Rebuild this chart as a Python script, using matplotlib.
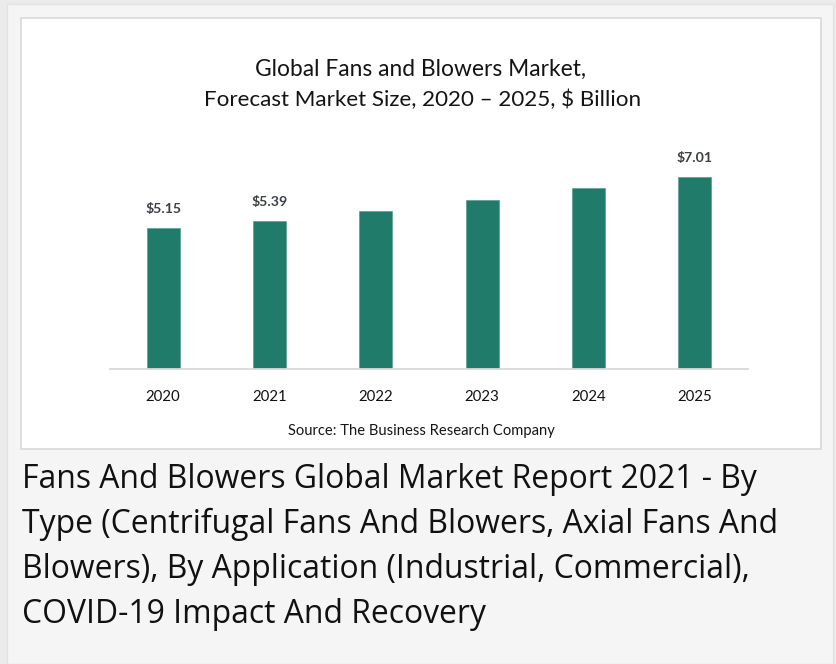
import matplotlib
matplotlib.use('Agg')
import matplotlib.pyplot as plt
from matplotlib.patches import Rectangle

# ---- data ----
years = ['2020', '2021', '2022', '2023', '2024', '2025']
values = [5.15, 5.39, 5.76, 6.16, 6.59, 7.01]
value_labels = ['$5.15', '$5.39', '', '', '', '$7.01']
title_lines = ['Global Fans and Blowers Market,',
               'Forecast Market Size, 2020 \u2013 2025, $ Billion']
source_text = 'Source: The Business Research Company'
caption_lines = ['Fans And Blowers Global Market Report 2021 - By',
                 'Type (Centrifugal Fans And Blowers, Axial Fans And',
                 'Blowers), By Application (Industrial, Commercial),',
                 'COVID-19 Impact And Recovery']

W, H = 836, 664
fig = plt.figure(figsize=(W / 100, H / 100), dpi=100)
fig.patch.set_facecolor('#ebebeb')


def fx(x):
    return x / W


def fy(y):
    return 1 - y / H


# outer panel and white chart box
fig.add_artist(Rectangle((fx(7), fy(664)), (833 - 7) / W, (664 - 4) / H,
                         transform=fig.transFigure, facecolor='#f5f5f5',
                         edgecolor='#e2e2e2', lw=1, zorder=0))
fig.add_artist(Rectangle((fx(21), fy(449)), (821 - 21) / W, (449 - 18) / H,
                         transform=fig.transFigure, facecolor='white',
                         edgecolor='#d9d9d9', lw=1.2, zorder=0))

# axes
base_y, top_y = 369, 140
ax = fig.add_axes([fx(110), fy(base_y), (748 - 110) / W, (base_y - top_y) / H])
ax.set_facecolor('none')
ax.set_xlim(-0.5, len(years) - 0.5)
ax.set_ylim(0, (base_y - top_y) / 27.4)
x = list(range(len(years)))
ax.bar(x, values, width=0.31, color='#217b6b', edgecolor='#5a9f91', linewidth=0.5, zorder=2)
for s in ['top', 'left', 'right']:
    ax.spines[s].set_visible(False)
ax.spines['bottom'].set_color('#d9d9d9')
ax.spines['bottom'].set_linewidth(1.3)
ax.set_yticks([])
ax.set_xticks(x)
ax.set_xticklabels(years, fontfamily='Lato', fontsize=10, color='#111111')
ax.tick_params(axis='x', length=0, pad=15)

lab_texts = []
for xi, v, lab in zip(x, values, value_labels):
    if lab:
        t = ax.annotate(lab, (xi, v), xytext=(0, 11), textcoords='offset points',
                        ha='center', va='baseline', fontfamily='Lato', fontweight='bold',
                        fontsize=10, color='#3b3f46')
        lab_texts.append(t)

# titles
t1 = fig.text(fx(421), fy(76), title_lines[0], ha='center', va='baseline',
              fontfamily='Lato', fontsize=15, color='#141414')
t2 = fig.text(fx(423), fy(106), title_lines[1], ha='center', va='baseline',
              fontfamily='Lato', fontsize=15, color='#141414')
src = fig.text(fx(421), fy(435), source_text, ha='center', va='baseline',
               fontfamily='Lato', fontsize=9, color='#151515')

caps = []
for i, line in enumerate(caption_lines):
    caps.append(fig.text(fx(22), fy(488 + 45 * i), line, ha='left', va='baseline',
                         fontfamily='Open Sans', fontsize=20, color='#111111'))

# fit font sizes to the reference widths
fig.canvas.draw()
r = fig.canvas.get_renderer()


def fit(t, target):
    bb = t.get_window_extent(renderer=r)
    t.set_fontsize(t.get_fontsize() * target / bb.width)


fit(t1, 331)
fit(t2, 437)
fit(src, 267)
for t in lab_texts:
    fit(t, 36)
fit(caps[0], 735)
for c in caps[1:]:
    c.set_fontsize(caps[0].get_fontsize())
tl = ax.get_xticklabels()[0]
bb = tl.get_window_extent(renderer=r)
ax.tick_params(axis='x', labelsize=10 * 35 / bb.width)

fig.savefig('out.png', dpi=100, facecolor=fig.get_facecolor())
